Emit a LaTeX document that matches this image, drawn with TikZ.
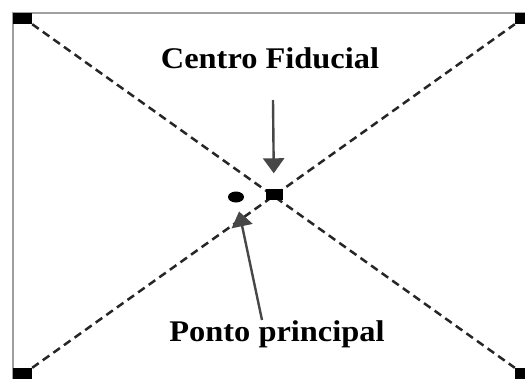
\documentclass[tikz,border=0pt]{standalone}
\usepackage{fontspec}
\setmainfont{Liberation Serif}[FakeStretch=1.08]
\usetikzlibrary{arrows.meta,positioning,shapes.geometric}

\begin{document}
\begin{tikzpicture}[x=1pt, y=-1pt,
    corner/.style={fill=black, inner sep=0pt, minimum width=19pt, minimum height=11pt},
    diag/.style={line width=2.5pt, dash pattern=on 8pt off 5pt, black!85},
    arr/.style={-{Triangle[length=15pt, width=21pt]}, line width=2.4pt, black!72},
    lbl/.style={font=\fontsize{30}{34}\selectfont\bfseries, inner sep=0pt},
]
\useasboundingbox (0,0) rectangle (525,378);

% frame
\draw[gray!75, line width=2.4pt] (13,390) -- (13,13) -- (540,13);

\node[corner] (tl) at (22.5,18.5) {};
\node[corner] (tr) at (524.5,18.5) {};
\node[corner] (bl) at (22.5,373.5) {};
\node[corner] (br) at (524.5,373.5) {};

\draw[diag] (tl.south east) -- (br.north west);
\draw[diag] (bl.north east) -- (tr.south west);

\node[fill=black, inner sep=0pt, minimum width=17pt, minimum height=11pt] (fc) at (274,194) {};
\node[ellipse, fill=black, inner sep=0pt, minimum width=16pt, minimum height=11pt] (pp) at (236,197) {};

\node[lbl] (lblfc) at (270,58) {Centro Fiducial};
\node[lbl] (lblpp) at (277,334) {Ponto principal};

\coordinate (fctail) at (273,100);
\coordinate (pptail) at (262,320);
\draw[arr, shorten >=15pt] (fctail) -- (fc);
\draw[arr, shorten >=9pt] (pptail) -- (pp);
\end{tikzpicture}
\end{document}
